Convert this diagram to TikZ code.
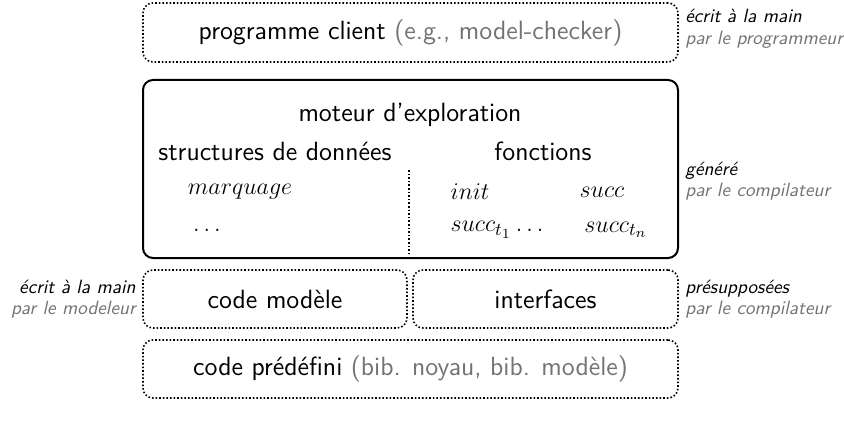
\documentclass[tikz,border=0pt]{standalone}
\usepackage{fontspec}
\usetikzlibrary{positioning}
\renewcommand{\familydefault}{\sfdefault}
\definecolor{faintgray}{gray}{0.45}

\tikzset{
  dotbox/.style={draw, densely dotted, line width=0.8pt, rounded corners=5pt, inner sep=0pt},
  solidbox/.style={draw, line width=1pt, rounded corners=5pt, inner sep=0pt},
  big/.style={font=\fontsize{13.2}{15}\selectfont},
  note/.style={font=\fontsize{9.6}{12}\selectfont\itshape, inner sep=0pt},
}
\newcommand{\faint}[1]{{\color{faintgray}#1}}

\begin{document}
\begin{tikzpicture}[x=0.5pt,y=-0.5pt]
\useasboundingbox (0,0) rectangle (844,422);

% les couches
\node[dotbox, big, minimum width=267.5pt, minimum height=29.5pt] (client) at (410.5,32.5)
  {programme client \faint{(e.g., model-checker)}};
\node[solidbox, minimum width=267.5pt, minimum height=89pt] (moteur) at (410.5,169) {};
\node[dotbox, big, minimum width=132pt, minimum height=29pt] (modele) at (275,299) {code mod\`ele};
\node[dotbox, big, minimum width=132.5pt, minimum height=29pt] (interf) at (545.5,299) {interfaces};
\node[dotbox, big, minimum width=267.5pt, minimum height=29pt] (predef) at (410.5,369)
  {code pr\'ed\'efini \faint{(bib. noyau, bib. mod\`ele)}};

% contenu du moteur
\node[big] (titre) at (410,115) {moteur d'exploration};
\node[big, anchor=base] (struct) at (275,161) {structures de donn\'ees};
\node[big, anchor=base] (fonct) at (543,161) {fonctions};
\node[big] (marq) at (240,192) {$marquage$};
\node[big] (etc) at (207,230) {$\ldots$};
\node[big] (init) at (470,192) {$init$};
\node[big] (succ) at (602,192) {$succ$};
\node[big] (succa) at (497,230) {$succ_{t_1}\ldots$};
\node[big] (succn) at (616,230) {$succ_{t_n}$};
\coordinate (sepA) at (409,170);
\coordinate (sepB) at (409,255);
\draw[densely dotted, line width=0.8pt] (sepA) -- (sepB);

% annotations
\node[note, anchor=base west] (n1) at (685,23) {\'ecrit \`a la main};
\node[note, anchor=base west] (n1b) at (685,45) {\faint{par le programmeur}};
\node[note, anchor=base west] (n2) at (685,176) {g\'en\'er\'e};
\node[note, anchor=base west] (n2b) at (685,197) {\faint{par le compilateur}};
\node[note, anchor=base west] (n3) at (685,293) {pr\'esuppos\'ees};
\node[note, anchor=base west] (n3b) at (685,314) {\faint{par le compilateur}};
\node[note, anchor=base east] (n4) at (136,293) {\'ecrit \`a la main};
\node[note, anchor=base east] (n4b) at (136,314) {\faint{par le modeleur}};
\end{tikzpicture}
\end{document}
